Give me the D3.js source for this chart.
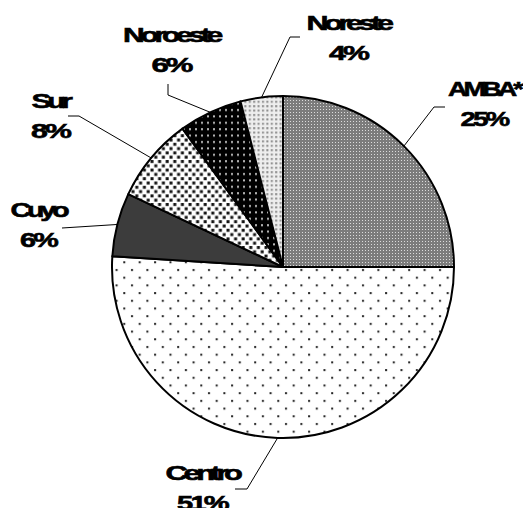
<!DOCTYPE html>
<html>
<head>
<meta charset="utf-8">
<script src="https://cdn.jsdelivr.net/npm/d3@7"></script>
<style>
  body { margin: 0; background: #fff; }
  text { font-family: "Liberation Sans", Arial, sans-serif; font-weight: bold; font-size: 21px; fill: #000; stroke: #000; stroke-width: 0.6px; }
</style>
</head>
<body>
<script>
var width = 523,
    height = 508,
    cx = 283,
    cy = 267,
    radius = 171;

var regions = ["AMBA*", "Centro", "Cuyo", "Sur", "Noroeste", "Noreste"];
var shares = [25, 51, 6, 8, 6, 4];
var pctLabels = ["25%", "51%", "6%", "8%", "6%", "4%"];

// one fill pattern per region, same order as regions
var fills = ["url(#pAmba)", "url(#pCentro)", "#3c3c3c", "url(#pSur)", "url(#pNoroeste)", "url(#pNoreste)"];

// hand placed labels (like the original): text centre, baseline, widths, elbow of leader
var labelPos = [
  {x: 484, y: 96,  w1: 72, w2: 47, elbow: [[445, 107], [434, 107]]},
  {x: 202, y: 480, w1: 73, w2: 50, elbow: [[235, 489], [247, 489]]},
  {x: 38,  y: 217, w1: 55, w2: 36, elbow: [[62, 228]]},
  {x: 50,  y: 108, w1: 37, w2: 38, elbow: [[68, 116], [79, 116]]},
  {x: 171, y: 42,  w1: 96, w2: 39, elbow: [[168, 84], [168, 95]]},
  {x: 348, y: 30,  w1: 83, w2: 38, elbow: [[300, 37], [290, 37]]}
];

var svg = d3.select("body").append("svg")
    .attr("width", width)
    .attr("height", height);

var defs = svg.append("defs");

// AMBA: fine grey checker
var p = defs.append("pattern").attr("id", "pAmba").attr("patternUnits", "userSpaceOnUse")
    .attr("width", 3).attr("height", 3);
p.append("rect").attr("width", 3).attr("height", 3).attr("fill", "#7c7c7c");
p.append("rect").attr("x", 1).attr("y", 1).attr("width", 1).attr("height", 1).attr("fill", "#dcdcdc");

// Centro: sparse staggered dots
p = defs.append("pattern").attr("id", "pCentro").attr("patternUnits", "userSpaceOnUse")
    .attr("width", 15.4).attr("height", 15.4);
p.append("rect").attr("width", 15.4).attr("height", 15.4).attr("fill", "#fff");
p.append("rect").attr("x", 2).attr("y", 2).attr("width", 2).attr("height", 2).attr("fill", "#222");
p.append("rect").attr("x", 9.7).attr("y", 9.7).attr("width", 2).attr("height", 2).attr("fill", "#222");

// Sur: black squares, staggered
p = defs.append("pattern").attr("id", "pSur").attr("patternUnits", "userSpaceOnUse")
    .attr("width", 7.6).attr("height", 8.6);
p.append("rect").attr("width", 7.6).attr("height", 8.6).attr("fill", "#fff");
p.append("rect").attr("x", 0.5).attr("y", 0.5).attr("width", 3).attr("height", 3).attr("fill", "#111");
p.append("rect").attr("x", 4.3).attr("y", 4.8).attr("width", 3).attr("height", 3).attr("fill", "#111");

// Noroeste: black with light dots
p = defs.append("pattern").attr("id", "pNoroeste").attr("patternUnits", "userSpaceOnUse")
    .attr("width", 6).attr("height", 6.4);
p.append("rect").attr("width", 6).attr("height", 6.4).attr("fill", "#000");
p.append("rect").attr("x", 2).attr("y", 2).attr("width", 2).attr("height", 2).attr("fill", "#bbb");

// Noreste: light with grey dots
p = defs.append("pattern").attr("id", "pNoreste").attr("patternUnits", "userSpaceOnUse")
    .attr("width", 4.4).attr("height", 4.4);
p.append("rect").attr("width", 4.4).attr("height", 4.4).attr("fill", "#eee");
p.append("rect").attr("x", 1).attr("y", 1).attr("width", 2).attr("height", 2).attr("fill", "#8a8a8a");

var pie = d3.pie()
    .sort(null)
    .value(function(d) { return d; });

var arc = d3.arc()
    .innerRadius(0)
    .outerRadius(radius);

var edgeArc = d3.arc()
    .innerRadius(radius)
    .outerRadius(radius);

var arcs = pie(shares);

var g = svg.append("g")
    .attr("transform", "translate(" + cx + "," + cy + ")");

g.selectAll(".slice")
    .data(arcs)
  .enter().append("path")
    .attr("class", "slice")
    .attr("fill", function(d, i) { return fills[i]; })
    .attr("stroke", "#000")
    .attr("stroke-width", 2)
    .attr("stroke-linejoin", "round")
    .attr("d", arc);

// leader lines: from label elbow to the middle of the slice edge
var line = d3.line();
svg.selectAll(".leader")
    .data(arcs)
  .enter().append("path")
    .attr("class", "leader")
    .attr("fill", "none")
    .attr("stroke", "#000")
    .attr("stroke-width", 1)
    .attr("d", function(d, i) {
      var c = edgeArc.centroid(d);
      var pts = labelPos[i].elbow.concat([[cx + c[0], cy + c[1]]]);
      return line(pts);
    });

var labels = svg.selectAll(".label")
    .data(regions)
  .enter().append("g")
    .attr("class", "label");

labels.append("text")
    .attr("x", function(d, i) { return labelPos[i].x; })
    .attr("y", function(d, i) { return labelPos[i].y; })
    .attr("text-anchor", "middle")
    .attr("letter-spacing", "-3px")
    .attr("textLength", function(d, i) { return labelPos[i].w1; })
    .attr("lengthAdjust", "spacingAndGlyphs")
    .text(function(d) { return d; });

labels.append("text")
    .attr("x", function(d, i) { return labelPos[i].x; })
    .attr("y", function(d, i) { return labelPos[i].y + 30; })
    .attr("text-anchor", "middle")
    .attr("letter-spacing", "-2px")
    .attr("textLength", function(d, i) { return labelPos[i].w2; })
    .attr("lengthAdjust", "spacingAndGlyphs")
    .text(function(d, i) { return pctLabels[i]; });
</script>
</body>
</html>
